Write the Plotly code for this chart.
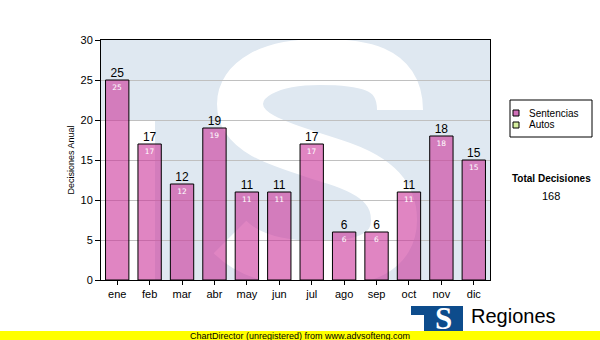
import plotly.graph_objects as go

meses = ["ene", "feb", "mar", "abr", "may", "jun", "jul", "ago", "sep", "oct", "nov", "dic"]
sentencias = [25, 17, 12, 19, 11, 11, 17, 6, 6, 11, 18, 15]
y_ticks = [0, 5, 10, 15, 20, 25, 30]
series_names = ["Sentencias", "Autos"]
total = sum(sentencias)

W_PX, H_PX = 600, 340
L, R, T, B = 101, 490, 40, 280
PW, PH = R - L, B - T


def px(x):
    return (x - L) / PW


def py(y):
    return (B - y) / PH


def pt(x, y):
    return f"{px(x):.5f},{py(y):.5f}"


BAR_COLOR = "rgba(204,51,153,0.6)"
FONT = "Liberation Sans, Arial, sans-serif"

fig = go.Figure()
fig.add_bar(
    x=meses, y=sentencias, name=series_names[0],
    marker=dict(color=BAR_COLOR, line=dict(color="black", width=1)),
    text=[str(v) for v in sentencias], textposition="inside", insidetextanchor="end",
    textangle=0, insidetextfont=dict(color="white", size=7.5, family="DejaVu Sans"),
    showlegend=False, hoverinfo="skip",
)
fig.add_scatter(
    x=meses, y=sentencias, mode="text", text=[str(v) for v in sentencias],
    textposition="top center", textfont=dict(size=12, color="black", family=FONT),
    showlegend=False, cliponaxis=False, hoverinfo="skip",
)

shapes = []
# watermark: light blue block, white notch, white S
shapes.append(dict(type="rect", xref="paper", yref="paper", x0=0, x1=1, y0=0, y1=1,
                   fillcolor="#dfe8f1", line=dict(width=0), layer="below"))
shapes.append(dict(type="rect", xref="paper", yref="paper", x0=0, x1=px(155), y0=0, y1=py(121),
                   fillcolor="white", line=dict(width=0), layer="below"))
s_path = (
    f"M {pt(400,110)} C {pt(400,66)} {pt(360,62)} {pt(320,62)} "
    f"C {pt(268,62)} {pt(240,80)} {pt(240,104)} "
    f"C {pt(240,137)} {pt(290,147)} {pt(335,162)} "
    f"C {pt(382,177)} {pt(394,197)} {pt(394,220)} "
    f"C {pt(394,252)} {pt(365,264)} {pt(320,264)} "
    f"C {pt(280,264)} {pt(250,257)} {pt(230,237)}"
)
shapes.append(dict(type="path", xref="paper", yref="paper", path=s_path,
                   line=dict(color="white", width=46), fillcolor="rgba(0,0,0,0)", layer="below"))

# legend box
shapes.append(dict(type="rect", xref="paper", yref="paper", x0=px(510), x1=px(592), y0=py(137), y1=py(100),
                   fillcolor="white", line=dict(color="black", width=1)))
shapes.append(dict(type="rect", xref="paper", yref="paper", x0=px(513), x1=px(519), y0=py(116), y1=py(110),
                   fillcolor="#d070b8", line=dict(color="black", width=1)))
shapes.append(dict(type="rect", xref="paper", yref="paper", x0=px(513), x1=px(519), y0=py(128), y1=py(122),
                   fillcolor="#d6efa0", line=dict(color="black", width=1)))

# logo
shapes.append(dict(type="rect", xref="paper", yref="paper", x0=px(411), x1=px(463), y0=py(331), y1=py(306),
                   fillcolor="#0d4c8c", line=dict(width=0)))
shapes.append(dict(type="rect", xref="paper", yref="paper", x0=px(410), x1=px(424), y0=py(332), y1=py(315),
                   fillcolor="white", line=dict(width=0)))
# banner
shapes.append(dict(type="rect", xref="paper", yref="paper", x0=px(0), x1=px(600), y0=py(340), y1=py(331),
                   fillcolor="#ffff00", line=dict(width=0), layer="above"))

annotations = [
    dict(x=px(527), y=py(113), text=series_names[0], xanchor="left", yanchor="middle",
         font=dict(size=10, color="black", family=FONT)),
    dict(x=px(527), y=py(125), text=series_names[1], xanchor="left", yanchor="middle",
         font=dict(size=10, color="black", family=FONT)),
    dict(x=px(551), y=py(178), text="<b>Total Decisiones</b>", xanchor="center", yanchor="middle",
         font=dict(size=10, color="black", family=FONT)),
    dict(x=px(551), y=py(196), text=str(total), xanchor="center", yanchor="middle",
         font=dict(size=11, color="black", family=FONT)),
    dict(x=px(443), y=py(318), text="<b>S</b>", xanchor="center", yanchor="middle",
         font=dict(size=31, color="white", family="Liberation Serif, serif")),
    dict(x=px(469), y=py(316), text="Regiones", xanchor="left", yanchor="middle",
         font=dict(size=20, color="black", family=FONT)),
    dict(x=px(300), y=py(335.5), text="ChartDirector (unregistered) from www.advsofteng.com",
         xanchor="center", yanchor="middle", font=dict(size=9, color="black", family=FONT)),
]
for a in annotations:
    a.update(xref="paper", yref="paper", showarrow=False)

fig.update_layout(
    width=W_PX, height=H_PX,
    margin=dict(l=L, r=W_PX - R, t=T, b=H_PX - B, pad=0),
    paper_bgcolor="white", plot_bgcolor="white",
    bargap=0.28, showlegend=False,
    font=dict(family=FONT, color="black"),
    shapes=shapes, annotations=annotations,
    xaxis=dict(type="category", range=[-0.5, 11.5], showline=True, linecolor="black", linewidth=1,
               mirror=True, ticks="outside", ticklen=4, tickcolor="black", showgrid=False,
               tickfont=dict(size=11, color="black", family=FONT)),
    yaxis=dict(range=[0, 30], tickvals=y_ticks, showline=True, linecolor="black", linewidth=1,
               mirror=True, ticks="outside", ticklen=5, tickcolor="black", showgrid=True,
               gridcolor="#c0c0c0", gridwidth=1, zeroline=False,
               tickfont=dict(size=11, color="black", family=FONT),
               title=dict(text="Decisiones Anual", standoff=4,
                          font=dict(size=9, color="black", family=FONT))),
)

fig.write_html(
    "out.html",
    config={"displayModeBar": False, "staticPlot": True},
    post_script="document.body.style.margin='0';document.body.style.padding='0';",
)
